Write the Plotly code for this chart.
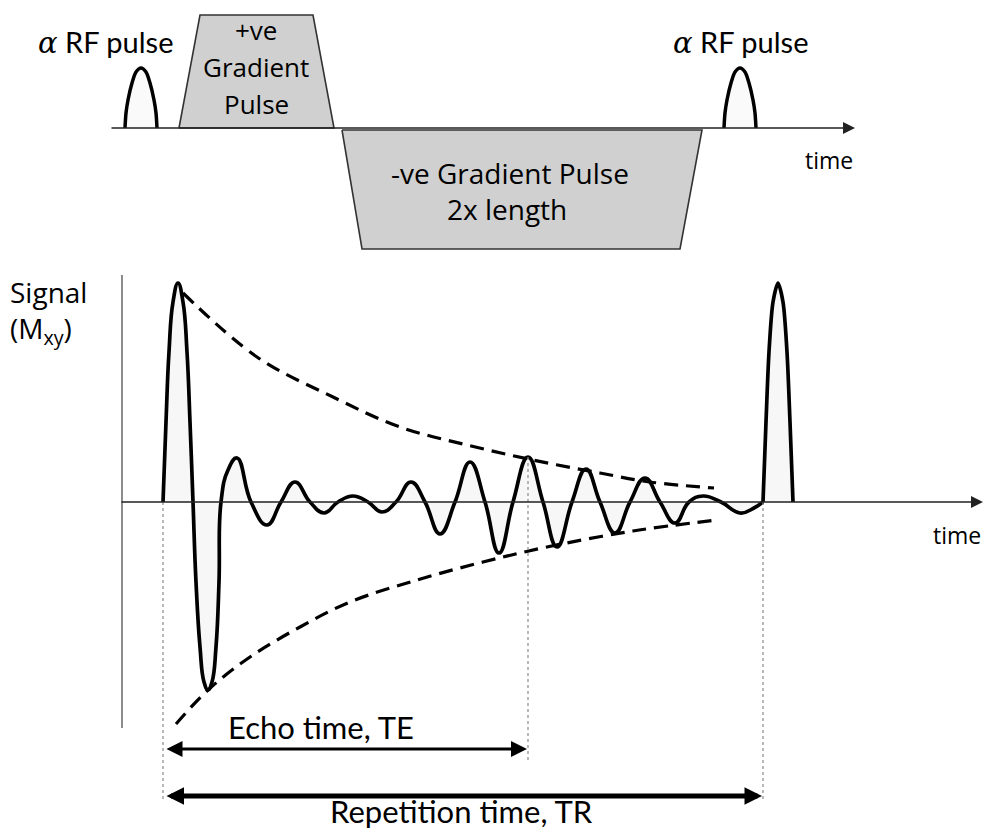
import plotly.graph_objects as go

# ---------------- data ----------------
# top: pulse sequence (time axis in px-like units, amplitude on gradient axis; baseline 0)
rf_centers = [141, 740]
rf_shape_dx = [-16, -15, -13, -9, -5, 0, 5, 9, 13, 15, 16]
rf_shape_h = [0, 15, 28, 45, 56, 60, 56, 45, 28, 15, 0]

pos_grad_t = [179, 200, 313, 334]
pos_grad_h = [0, 113, 113, 0]
neg_grad_t = [342, 362, 680, 702]
neg_grad_h = [-2, -121, -121, -2]

# bottom: signal Mxy (FID + gradient echo)
fid_t = [163, 166, 169, 173, 178, 183, 187, 190, 193, 196, 200, 204, 208, 212, 216, 219, 221,
         228, 237, 251, 267, 281, 295, 310, 324, 338, 353, 368, 382, 396, 411,
         425, 440, 455, 470, 485, 499, 513, 528, 543, 557, 572, 586, 600, 615,
         630, 645, 660, 675, 689, 703, 721, 740, 754, 763]
fid_s = [0, 80, 150, 200, 219, 200, 150, 80, 0, -80, -145, -180, -188, -180, -145, -80, 0,
         32, 44, 0, -23, 0, 20, 0, -11, 0, 6, 0, -10, 0, 20,
         0, -32, 0, 40, 0, -51, 0, 45, 0, -45, 0, 33, 0, -31,
         0, 24, 0, -21, 0, 6, 0, -11, -6, 0]

rf2_t = [763, 766, 769, 773, 778, 783, 787, 790, 793]
rf2_s = [0, 80, 150, 200, 219, 200, 150, 80, 0]

env_up_t = [183, 257, 333, 400, 467, 533, 600, 650, 714]
env_up_s = [209, 145, 105, 75, 57, 42, 29, 20, 14]
env_lo_t = [176, 208, 250, 300, 350, 417, 483, 547, 633, 717]
env_lo_s = [-222, -188, -155, -125, -100, -78, -60, -45, -29, -18]

t_start, t_echo, t_rep = 163, 528, 763

fig = go.Figure()

# ---- top diagram ----
for c in rf_centers:
    fig.add_trace(go.Scatter(
        x=[c + d for d in rf_shape_dx], y=rf_shape_h, yaxis="y2",
        mode="lines", line=dict(color="black", width=3.5, shape="spline", smoothing=0.8),
        fill="toself", fillcolor="#fafafa", hoverinfo="skip", showlegend=False))

for tt, hh in [(pos_grad_t, pos_grad_h), (neg_grad_t, neg_grad_h)]:
    fig.add_trace(go.Scatter(
        x=tt + [tt[0]], y=hh + [hh[0]], yaxis="y2", mode="lines",
        line=dict(color="#333333", width=1.6), fill="toself", fillcolor="#d0d0d0",
        hoverinfo="skip", showlegend=False))

# ---- bottom diagram ----
fig.add_trace(go.Scatter(
    x=fid_t, y=fid_s, mode="lines",
    line=dict(color="black", width=3.7, shape="spline", smoothing=1.3),
    fill="tozeroy", fillcolor="rgba(0,0,0,0.03)", hoverinfo="skip", showlegend=False))
fig.add_trace(go.Scatter(
    x=rf2_t, y=rf2_s, mode="lines",
    line=dict(color="black", width=3.7, shape="spline", smoothing=0.8),
    fill="tozeroy", fillcolor="rgba(0,0,0,0.03)", hoverinfo="skip", showlegend=False))

for tt, ss in [(env_up_t, env_up_s), (env_lo_t, env_lo_s)]:
    fig.add_trace(go.Scatter(
        x=tt, y=ss, mode="lines",
        line=dict(color="black", width=3.2, dash="14px,8px", shape="spline", smoothing=1.0),
        hoverinfo="skip", showlegend=False))

shapes = []
# vertical signal axis
shapes.append(dict(type="line", xref="x", yref="y", x0=122, x1=122, y0=227, y1=-226,
                   line=dict(color="#666666", width=1.5)))
# dotted guides
for tx, y0, y1 in [(t_start, 0, -298), (t_echo, 45, -258), (t_rep, 0, -298)]:
    shapes.append(dict(type="line", xref="x", yref="y", x0=tx, x1=tx, y0=y0, y1=y1,
                       line=dict(color="#8a8a8a", width=1.2, dash="dot")))

annotations = []
# time axes with arrows
annotations.append(dict(x=855, y=0, ax=110, ay=0, xref="x", yref="y2", axref="x", ayref="y2",
                        text="", showarrow=True, arrowhead=2, arrowsize=1.6, arrowwidth=1.5,
                        arrowcolor="#222222"))
annotations.append(dict(x=983, y=0, ax=120, ay=0, xref="x", yref="y", axref="x", ayref="y",
                        text="", showarrow=True, arrowhead=2, arrowsize=1.6, arrowwidth=1.5,
                        arrowcolor="#222222"))
# TE and TR double arrows
annotations.append(dict(x=t_echo - 1, y=-247, ax=t_start + 2, ay=-247, xref="x", yref="y",
                        axref="x", ayref="y", text="", showarrow=True, arrowhead=2,
                        startarrowhead=2, arrowside="end+start", arrowsize=1.0,
                        startarrowsize=1.0, arrowwidth=3.2, arrowcolor="black"))
annotations.append(dict(x=t_rep - 1, y=-294, ax=t_start + 2, ay=-294, xref="x", yref="y",
                        axref="x", ayref="y", text="", showarrow=True, arrowhead=2,
                        startarrowhead=2, arrowside="end+start", arrowsize=0.7,
                        startarrowsize=0.7, arrowwidth=5, arrowcolor="black"))

CAL = "Lato, Calibri, sans-serif"
TAH = "Open Sans, Tahoma, sans-serif"


def txt(x, y, s, yref, size, fam, xanchor="center", align="center"):
    annotations.append(dict(x=x, y=y, xref="x", yref=yref, text=s, showarrow=False,
                            xanchor=xanchor, yanchor="middle", align=align,
                            font=dict(size=size, family=fam, color="black")))


alpha = "<i><span style='font-family:DejaVu Serif'>α</span></i>"
txt(105, 86, alpha + " RF pulse", "y2", 29, CAL)
txt(740, 86, alpha + " RF pulse", "y2", 29, CAL)
txt(256, 98, "+ve", "y2", 26, TAH)
txt(256, 61, "Gradient", "y2", 26, TAH)
txt(256, 24, "Pulse", "y2", 26, TAH)
txt(510, -45, "-ve Gradient Pulse", "y2", 28, TAH)
txt(507, -81, "2x length", "y2", 28, TAH)
txt(829, -32, "time", "y2", 23, TAH)

txt(8, 190, "Signal<br>(M<sub>xy</sub>)", "y", 28, TAH, xanchor="left", align="left")
txt(957, -33, "time", "y", 23, TAH)
txt(321, -225, "Echo time, TE", "y", 31, CAL)
txt(461, -309, "Repetition time, TR", "y", 31, CAL)

fig.update_layout(
    width=986, height=832, margin=dict(l=0, r=0, t=0, b=0),
    paper_bgcolor="white", plot_bgcolor="white", showlegend=False,
    xaxis=dict(range=[0, 986], visible=False, fixedrange=True),
    yaxis=dict(range=[-330, 502], visible=False, fixedrange=True),
    yaxis2=dict(range=[-704, 128], visible=False, fixedrange=True, overlaying="y"),
    shapes=shapes, annotations=annotations,
)

fig.write_html("out.html")
